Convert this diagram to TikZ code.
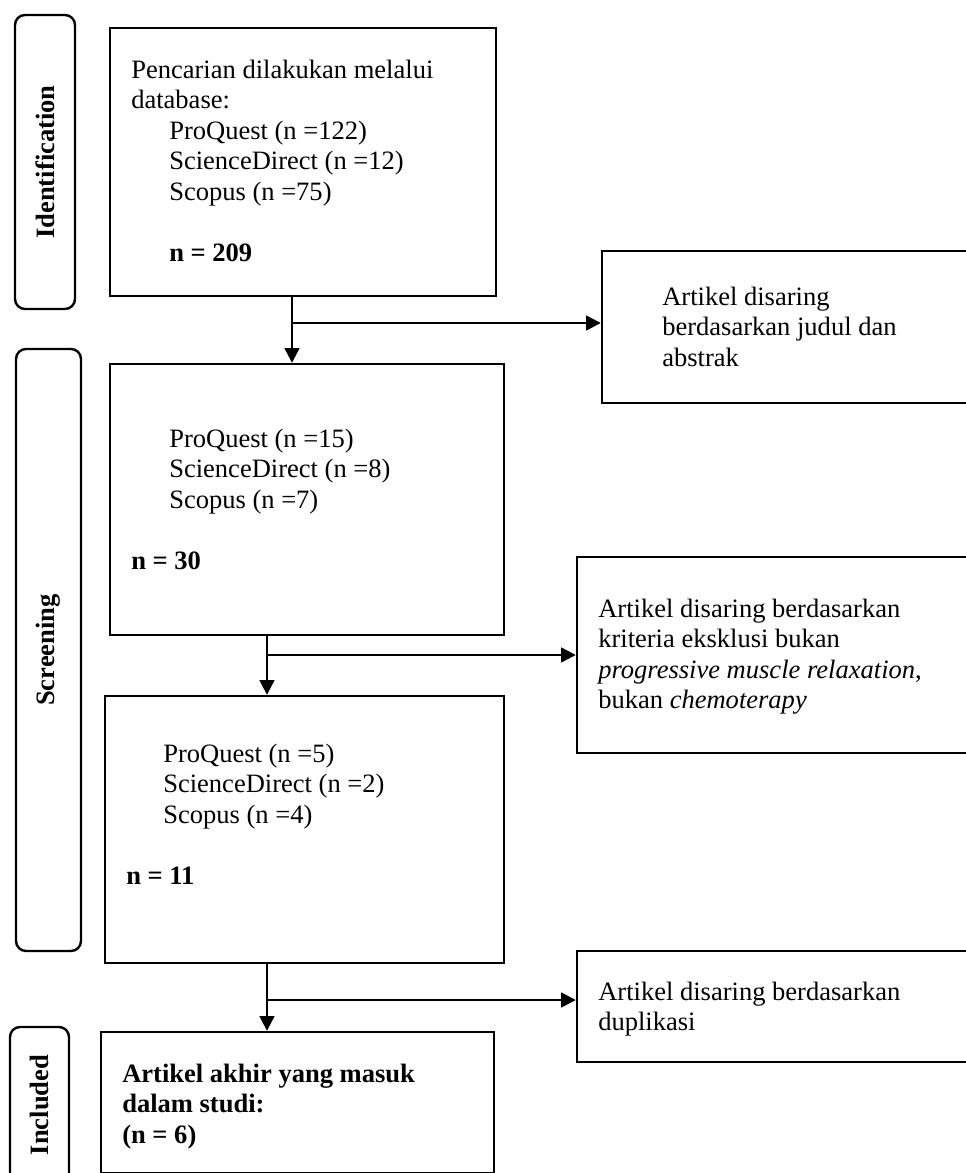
\documentclass[tikz,border=0pt]{standalone}
\usepackage{fontspec}
\setmainfont{Liberation Serif}
\usetikzlibrary{arrows.meta}
\newcommand\diagfont{\fontsize{19.9pt}{22.9pt}\selectfont}
\tikzset{
  phase/.style={draw, line width=1.8pt, rounded corners=7.5pt, rotate=90, inner sep=0pt, font=\diagfont\bfseries},
  box/.style={draw, line width=1.8pt, inner sep=0pt},
  txt/.style={anchor=north west, inner sep=0pt, align=left, font=\diagfont},
  arr/.style={line width=1.8pt, -{Triangle[length=11pt,width=11pt]}}
}
\begin{document}
\begin{tikzpicture}[x=0.75pt, y=-0.75pt]
\useasboundingbox (0,0) rectangle (966,1173);
\clip (0,0) rectangle (966,1173);

% phase labels
\node[phase, minimum width=220.5pt, minimum height=45pt] (idn) at (45,162) {Identification};
\node[phase, minimum width=451.5pt, minimum height=48.75pt] (scr) at (48.5,650) {Screening};
\node[phase, minimum width=117pt, minimum height=44.25pt] (inc) at (39.5,1105) {Included};

% main boxes
\node[box, minimum width=289.5pt, minimum height=201pt] (box1) at (303,162) {};
\node[box, minimum width=295.5pt, minimum height=203.25pt] (box2) at (307,499.5) {};
\node[box, minimum width=299.25pt, minimum height=200.25pt] (box3) at (304.5,829.5) {};
\node[box, minimum width=294.75pt, minimum height=105.75pt] (box4) at (297.5,1102.5) {};

% side boxes
\node[box, minimum width=298.5pt, minimum height=114pt] (r1) at (801,327) {};
\node[box, minimum width=317.25pt, minimum height=147pt] (r2) at (788.5,655) {};
\node[box, minimum width=317.25pt, minimum height=83.25pt] (r3) at (788.5,1006.5) {};

% texts
\node[txt] (t1) at (131,56.6) {\strut Pencarian dilakukan melalui\\
database:\\
\hspace*{28.5pt}ProQuest (n =122)\\
\hspace*{28.5pt}ScienceDirect (n =12)\\
\hspace*{28.5pt}Scopus (n =75)\\[22.9pt]
\hspace*{28.5pt}\textbf{n = 209}};

\node[txt] (t2) at (131,425.6) {\strut\hspace*{28.5pt}ProQuest (n =15)\\
\hspace*{28.5pt}ScienceDirect (n =8)\\
\hspace*{28.5pt}Scopus (n =7)\\[22.9pt]
\textbf{n = 30}};

\node[txt] (t3) at (126,740.6) {\strut\hspace*{27.75pt}ProQuest (n =5)\\
\hspace*{27.75pt}ScienceDirect (n =2)\\
\hspace*{27.75pt}Scopus (n =4)\\[22.9pt]
\textbf{n = 11}};

\node[txt, font=\diagfont\bfseries] (t4) at (122,1060.6) {\strut Artikel akhir yang masuk\\
dalam studi:\\
(n = 6)};

\node[txt] (tr1) at (662,283.6) {\strut Artikel disaring\\
berdasarkan judul dan\\
abstrak};

\node[txt] (tr2) at (598,595.6) {\strut Artikel disaring berdasarkan\\
kriteria eksklusi bukan\\
\textit{progressive muscle relaxation},\\
bukan \textit{chemoterapy}};

\node[txt] (tr3) at (598,978.6) {\strut Artikel disaring berdasarkan\\
duplikasi};

% connectors
\coordinate (c1) at (292,323);
\coordinate (c2) at (267,655);
\coordinate (c3) at (267,1000);

\draw[arr] (box1.south -| c1) -- (box2.north -| c1);
\draw[arr] (c1) -- (c1 -| r1.west);

\draw[arr] (box2.south -| c2) -- (box3.north -| c2);
\draw[arr] (c2) -- (c2 -| r2.west);

\draw[arr] (box3.south -| c3) -- (box4.north -| c3);
\draw[arr] (c3) -- (c3 -| r3.west);
\end{tikzpicture}
\end{document}
